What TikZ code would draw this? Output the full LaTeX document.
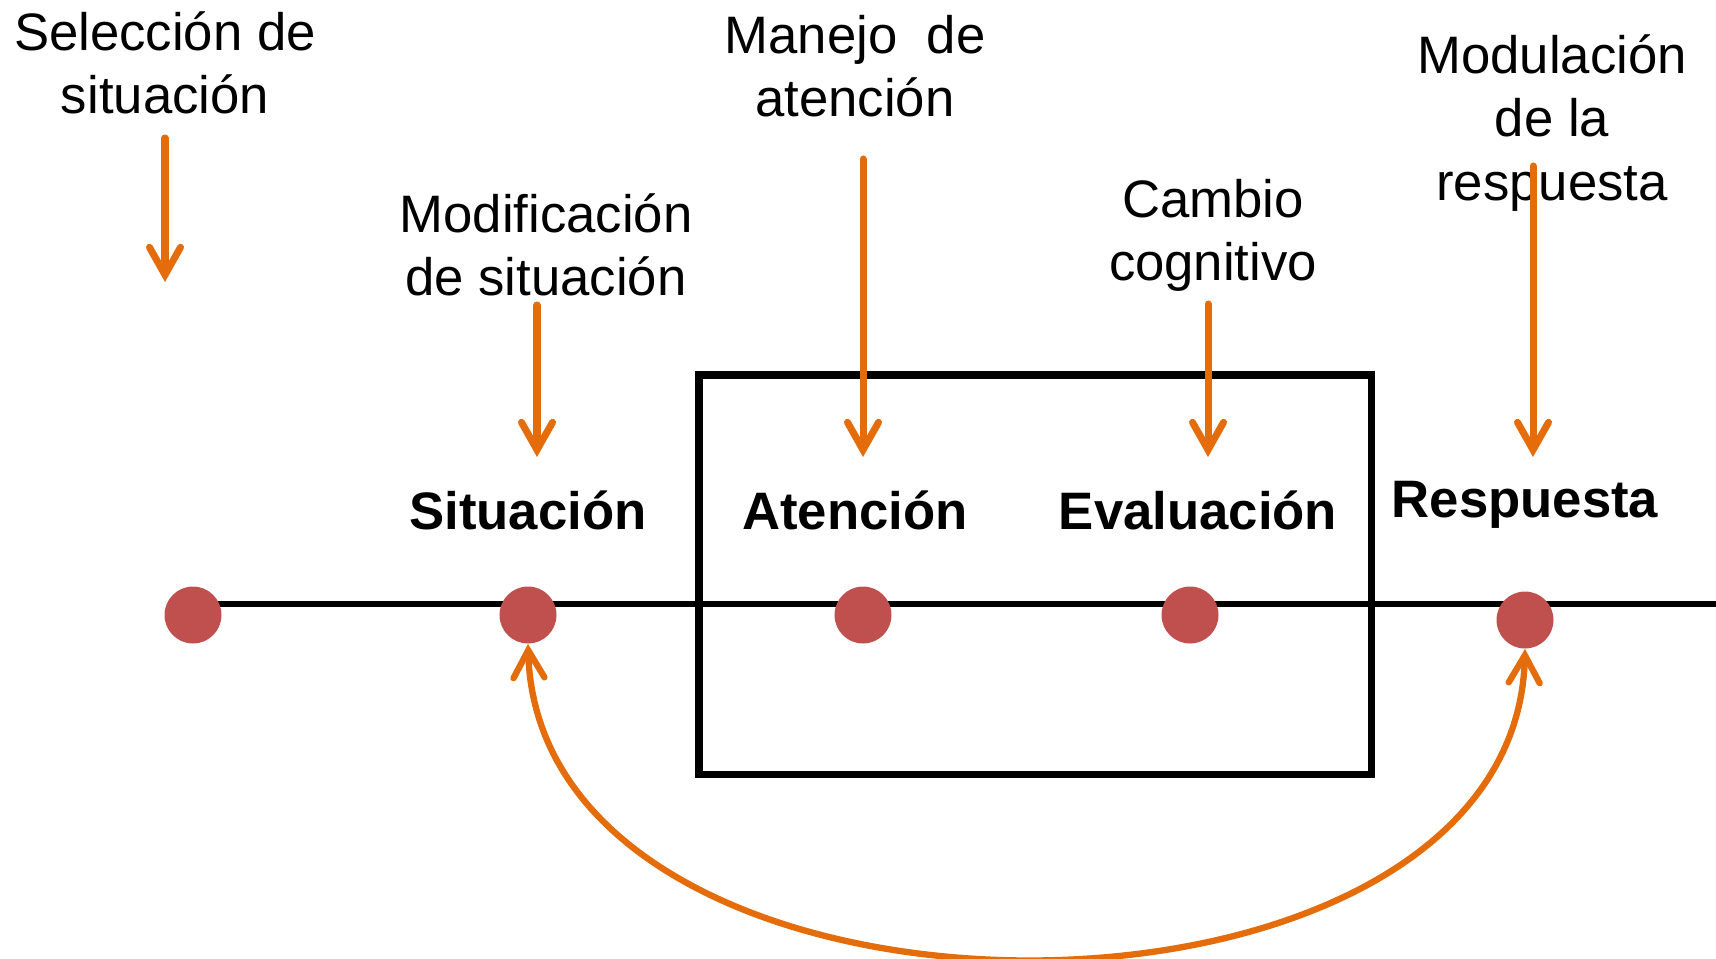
\documentclass[tikz,border=0pt]{standalone}
\usepackage{fontspec}
\setmainfont{Liberation Sans}
\usetikzlibrary{arrows.meta}
\definecolor{naranja}{HTML}{E46C0A}
\definecolor{rojo}{HTML}{C0504D}
\tikzset{
	texto/.style={align=center, inner sep=0, font=\fontsize{30}{36}\selectfont},
	etapa/.style={anchor=base, inner sep=0, font=\fontsize{30}{36}\selectfont\bfseries},
	punto/.style={circle, fill=rojo, minimum size=1.14cm, inner sep=0},
	flecha/.style={draw=naranja, line width=4pt, line cap=round, -{Straight Barb[length=0.55cm, width=0.62cm, line cap=round]}},
	curva/.style={draw=naranja, line width=3.6pt, line cap=round, {Straight Barb[length=0.55cm, width=0.62cm, line cap=round]}-{Straight Barb[length=0.55cm, width=0.62cm, line cap=round]}}
}
\begin{document}
\begin{tikzpicture}[x=0.02cm, y=-0.02cm]
		\useasboundingbox (0,0) rectangle (1716,958);
		% linea de tiempo y caja
		\draw[line width=3pt] (193,604) -- (1716,604);
		\draw[line width=4pt] (699,375) rectangle (1371,774);
		\foreach \n/\x/\y in {p1/193/615, p2/528/615, p3/863/615, p4/1190/615, p5/1525/620}
			\node[punto] (\n) at (\x,\y) {};
		% etiquetas
		\node[texto] (sel) at (165,63) {Selección de\\situación};
		\node[texto] (mod) at (546,245) {Modificación\\de situación};
		\node[texto] (man) at (855,66) {Manejo~~de\\atención};
		\node[texto] (cam) at (1213,235) {Cambio\\cognitivo};
		\node[texto] (mres) at (1552,123) {Modulación\\de la\\respuesta};
		\node[etapa] (sit) at (528,529) {Situación};
		\node[etapa] (ate) at (855,529) {Atención};
		\node[etapa] (eva) at (1198,529) {Evaluación};
		\node[etapa] (res) at (1525,517) {Respuesta};
		% flechas
		\foreach \n/\x/\a/\b in {f1/165/138/282, f2/537/305/457, f3/863/159/457, f4/1208/304/457, f5/1533/166/457} {
			\coordinate (\n a) at (\x,\a);
			\coordinate (\n b) at (\x,\b);
		}
		\foreach \n in {f1, f2, f3, f4, f5}
			\draw[flecha] (\n a) -- (\n b);
		\draw[curva] (p2.south) .. controls (540,1062) and (1515,1062) .. (p5.south);
\end{tikzpicture}
\end{document}
